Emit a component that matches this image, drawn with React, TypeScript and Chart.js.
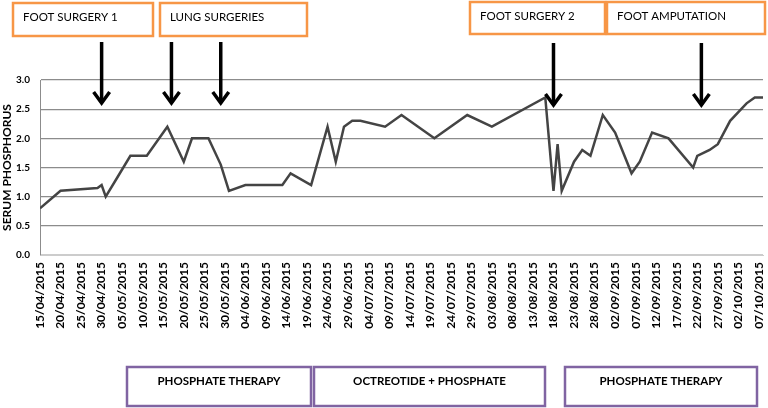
import React, { useEffect, useRef } from "react";
import { Chart, registerables } from "chart.js";

Chart.register(...registerables);

// ---- data ----
const START_DATE = "15/04/2015";
const END_DATE = "08/10/2015";
const TICK_STEP_DAYS = 5;

const sampleDates = [
  "15/04/2015", "20/04/2015", "29/04/2015", "30/04/2015", "01/05/2015", "04/05/2015",
  "07/05/2015", "11/05/2015", "16/05/2015", "20/05/2015", "22/05/2015", "26/05/2015",
  "29/05/2015", "31/05/2015", "04/06/2015", "13/06/2015", "15/06/2015", "20/06/2015",
  "22/06/2015", "24/06/2015", "26/06/2015", "28/06/2015", "30/06/2015", "02/07/2015",
  "08/07/2015", "12/07/2015", "20/07/2015", "28/07/2015", "03/08/2015", "16/08/2015",
  "18/08/2015", "19/08/2015", "20/08/2015", "23/08/2015", "25/08/2015", "27/08/2015",
  "30/08/2015", "02/09/2015", "06/09/2015", "08/09/2015", "11/09/2015", "15/09/2015",
  "21/09/2015", "22/09/2015", "25/09/2015", "27/09/2015", "30/09/2015", "04/10/2015",
  "06/10/2015", "08/10/2015",
];
const phosphorus = [
  0.8, 1.1, 1.15, 1.2, 1.0, 1.35,
  1.7, 1.7, 2.2, 1.6, 2.0, 2.0,
  1.55, 1.1, 1.2, 1.2, 1.4, 1.2,
  1.7, 2.2, 1.6, 2.2, 2.3, 2.3,
  2.2, 2.4, 2.0, 2.4, 2.2, 2.7,
  1.1, 1.9, 1.1, 1.6, 1.8, 1.7,
  2.4, 2.1, 1.4, 1.6, 2.1, 2.0,
  1.5, 1.7, 1.8, 1.9, 2.3, 2.6,
  2.7, 2.7,
];

const yTickValues = [0, 0.5, 1.0, 1.5, 2.0, 2.5, 3.0];
const Y_TITLE = "SERUM PHOSPHORUS";

const eventLabels = ["FOOT SURGERY 1", "LUNG SURGERIES", "FOOT SURGERY 2", "FOOT AMPUTATION"];
const arrowDates = ["30/04/2015", "17/05/2015", "29/05/2015", "18/08/2015", "23/09/2015"];
const therapyLabels = ["PHOSPHATE THERAPY", "OCTREOTIDE + PHOSPHATE", "PHOSPHATE THERAPY"];

// ---- helpers ----
const DAY = 86400000;
function parseDate(s: string): number {
  const [d, m, y] = s.split("/").map(Number);
  return Date.UTC(y, m - 1, d);
}
const START_MS = parseDate(START_DATE);
function dayOf(s: string): number {
  return Math.round((parseDate(s) - START_MS) / DAY);
}
function fmtDay(v: number): string {
  const dt = new Date(START_MS + v * DAY);
  const dd = String(dt.getUTCDate()).padStart(2, "0");
  const mm = String(dt.getUTCMonth() + 1).padStart(2, "0");
  return `${dd}/${mm}/${dt.getUTCFullYear()}`;
}

const FONT = "Lato, 'Open Sans', sans-serif";

// annotation layout (pixels)
const eventBoxes = [
  { x: 13, y: 3, w: 140, h: 33 },
  { x: 160, y: 3, w: 147, h: 33 },
  { x: 470, y: 2, w: 135, h: 32 },
  { x: 607, y: 2, w: 158, h: 32 },
];
const therapyBoxes = [
  { x: 127, y: 367, w: 184, h: 39 },
  { x: 314, y: 367, w: 231, h: 39 },
  { x: 565, y: 367, w: 192, h: 39 },
];

const annotationPlugin = {
  id: "annotations",
  afterDraw(chart: any) {
    const ctx = chart.ctx as CanvasRenderingContext2D;
    const xs = chart.scales.x;
    ctx.save();
    eventBoxes.forEach((b, i) => {
      ctx.fillStyle = "#ffffff";
      ctx.fillRect(b.x, b.y, b.w, b.h);
      ctx.strokeStyle = "#F79646";
      ctx.lineWidth = 2.5;
      ctx.strokeRect(b.x, b.y, b.w, b.h);
      ctx.fillStyle = "#000";
      ctx.font = `11.5px ${FONT}`;
      ctx.textAlign = "left";
      ctx.textBaseline = "middle";
      ctx.fillText(eventLabels[i], b.x + 10, b.y + 14);
    });
    arrowDates.forEach((d, i) => {
      const x = xs.getPixelForValue(dayOf(d));
      const top = i < 3 ? 42 : 43;
      const tip = i < 3 ? 105 : 107;
      ctx.strokeStyle = "#000";
      ctx.lineWidth = 3.5;
      ctx.lineCap = "butt";
      ctx.beginPath();
      ctx.moveTo(x, top);
      ctx.lineTo(x, tip - 2);
      ctx.stroke();
      ctx.lineJoin = "miter";
      ctx.beginPath();
      ctx.moveTo(x - 8, tip - 13);
      ctx.lineTo(x, tip - 2);
      ctx.lineTo(x + 8, tip - 13);
      ctx.stroke();
    });
    therapyBoxes.forEach((b, i) => {
      ctx.fillStyle = "#ffffff";
      ctx.fillRect(b.x, b.y, b.w, b.h);
      ctx.strokeStyle = "#8064A2";
      ctx.lineWidth = 2.5;
      ctx.strokeRect(b.x, b.y, b.w, b.h);
      ctx.fillStyle = "#000";
      ctx.font = `bold 11.5px ${FONT}`;
      ctx.textAlign = "center";
      ctx.textBaseline = "middle";
      ctx.fillText(therapyLabels[i], b.x + b.w / 2, b.y + 14);
    });
    ctx.restore();
  },
};

export default function App() {
  const ref = useRef<HTMLCanvasElement | null>(null);

  useEffect(() => {
    if (!ref.current) return;
    const points = sampleDates.map((d, i) => ({ x: dayOf(d), y: phosphorus[i] }));
    const maxDay = dayOf(END_DATE);
    const tickDays: number[] = [];
    for (let v = 0; v <= maxDay; v += TICK_STEP_DAYS) tickDays.push(v);

    const chart = new Chart(ref.current, {
      type: "line",
      data: {
        datasets: [
          {
            data: points,
            borderColor: "#444444",
            borderWidth: 2.5,
            pointRadius: 0,
            tension: 0,
            fill: false,
          },
        ],
      },
      options: {
        animation: false,
        responsive: false,
        devicePixelRatio: 1,
        layout: { padding: { top: 80, right: 5, left: 0, bottom: 0 } },
        plugins: { legend: { display: false }, tooltip: { enabled: false } },
        scales: {
          x: {
            type: "linear",
            min: 0,
            max: maxDay,
            afterBuildTicks: (s: any) => {
              s.ticks = tickDays.map((v) => ({ value: v }));
            },
            afterFit: (s: any) => {
              s.height = 153;
              s.paddingLeft = 0;
              s.paddingRight = 0;
            },
            ticks: {
              autoSkip: false,
              maxRotation: 90,
              minRotation: 90,
              padding: 7,
              color: "#000",
              font: { family: FONT, size: 12, weight: "bold" },
              callback: (v: any) => fmtDay(Number(v)),
            },
            grid: { display: false, drawTicks: false },
            border: { display: true, color: "#cccccc", width: 1 },
          },
          y: {
            min: 0,
            max: 3,
            afterBuildTicks: (s: any) => {
              s.ticks = yTickValues.map((v) => ({ value: v }));
            },
            afterFit: (s: any) => {
              s.width = 40;
              s.paddingTop = 0;
              s.paddingBottom = 0;
            },
            ticks: {
              padding: 10,
              color: "#000",
              font: { family: FONT, size: 10, weight: "bold" },
              callback: (v: any) => Number(v).toFixed(1),
            },
            grid: {
              drawTicks: false,
              color: (c: any) => (c.tick && c.tick.value === 0 ? "#cccccc" : "#8c8c8c"),
              lineWidth: 1.2,
            },
            border: { display: true, color: "#8c8c8c", width: 1 },
            title: {
              display: true,
              text: Y_TITLE,
              color: "#000",
              padding: 0,
              font: { family: FONT, size: 12, weight: "bold" },
            },
          },
        },
      },
      plugins: [annotationPlugin],
    } as any);
    return () => chart.destroy();
  }, []);

  return (
    <div style={{ position: "absolute", left: 0, top: 0, width: 768, height: 408, background: "#fff" }}>
      <canvas ref={ref} width={768} height={408} style={{ display: "block", width: 768, height: 408 }} />
    </div>
  );
}
